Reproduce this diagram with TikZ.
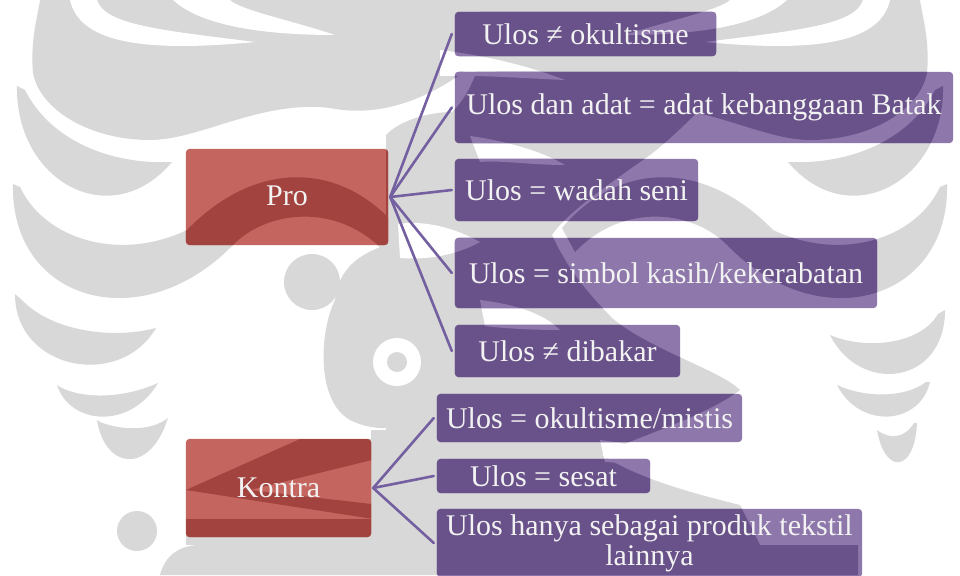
\documentclass[tikz,border=0pt]{standalone}
\usepackage{fontspec}
\setmainfont{Liberation Serif}
\pgfdeclarelayer{bg}
\pgfsetlayers{bg,main}

\definecolor{wmgrey}{HTML}{D8D8D8}
\definecolor{redlight}{HTML}{C5655F}
\definecolor{reddark}{HTML}{A3433F}
\definecolor{purplelight}{HTML}{8E78AB}
\definecolor{purpledark}{HTML}{69528A}
\definecolor{connpurple}{HTML}{7460A0}
\definecolor{labelwhite}{HTML}{F2F2F2}

% upper feathers of one wing of the emblem (drawn again mirrored for the other wing)
\newcommand\winggrey[1]{%
 \fill[#1] (40,0) -- (480,0) -- (480,60) .. controls (430,100) and (380,118) .. (330,108)
   .. controls (260,100) and (200,140) .. (150,140) .. controls (90,140) and (40,110) .. (33,73)
   .. controls (30,40) and (38,15) .. (40,0) -- cycle;
 \fill[#1] (17,86) .. controls (15,180) and (110,235) .. (172,162) .. controls (110,165) and (50,140) .. (25,90) -- cycle;
 \fill[#1] (13,184) .. controls (10,300) and (140,340) .. (233,245) .. controls (265,212) and (335,200) .. (385,252)
   -- (398,228) .. controls (340,160) and (255,160) .. (187,230) .. controls (120,262) and (45,240) .. (20,187) -- cycle;
}
\newcommand\winggaps[1]{%
 \fill[#1] (70,0) .. controls (80,45) and (150,52) .. (255,42) .. controls (160,30) and (105,25) .. (97,0) -- cycle;
 \fill[#1] (173,0) .. controls (200,25) and (260,35) .. (335,35) .. controls (290,20) and (240,10) .. (230,0) -- cycle;
}
% lower feathers of both wings
\newcommand\lowerfeathers[1]{%
 \fill[#1] (15,294) .. controls (15,370) and (120,390) .. (156,328) .. controls (110,340) and (50,330) .. (22,300) -- cycle;
 \fill[#1] (57,385) .. controls (70,425) and (130,430) .. (158,383) .. controls (120,400) and (80,398) .. (60,387) -- cycle;
 \fill[#1] (97,420) .. controls (105,470) and (150,475) .. (168,418) .. controls (150,432) and (120,430) .. (100,422) -- cycle;
 \fill[#1] (945,310) .. controls (945,385) and (860,395) .. (830,335) .. controls (865,350) and (920,345) .. (938,314) -- cycle;
 \fill[#1] (930,382) .. controls (920,425) and (860,430) .. (837,385) .. controls (865,398) and (905,398) .. (926,382) -- cycle;
 \fill[#1] (917,423) .. controls (915,472) and (885,476) .. (877,430) .. controls (890,440) and (905,438) .. (914,423) -- cycle;
}
% trunk, seed and roots
\newcommand\trunk[1]{%
 \fill[#1] (480,0) -- (650,0) .. controls (700,30) and (740,50) .. (740,70)
   .. controls (700,110) and (670,140) .. (650,155) .. controls (600,190) and (565,215) .. (552,235)
   .. controls (570,275) and (595,300) .. (612,318) .. controls (650,350) and (720,370) .. (740,390)
   .. controls (700,420) and (625,440) .. (602,455) .. controls (640,480) and (700,495) .. (740,505)
   -- (760,545) -- (371,545) -- (371,430) -- (386,430) -- (386,135)
   .. controls (400,120) and (430,112) .. (452,112) .. controls (465,100) and (475,80) .. (480,60) -- cycle;
 \fill[#1] (312,282) circle[radius=28];
 \fill[#1] (335,300) .. controls (320,330) and (315,400) .. (350,420) .. controls (380,435) and (420,430) .. (432,400)
   -- (432,240) -- (400,240) .. controls (370,250) and (340,260) .. (335,300) -- cycle;
 \fill[#1] (137,531) circle[radius=20];
 \fill[#1] (160,575) .. controls (165,555) and (180,545) .. (200,545) -- (858,545) -- (858,575) -- cycle;
 \fill[#1] (186,490) -- (300,439) -- (380,439) -- (380,458) -- (250,490) -- (380,505) -- (380,520) -- cycle;
 \fill[#1] (186,519) rectangle (380,545);
}
\newcommand\trunkgaps[1]{%
 \fill[#1] (397,362) circle[radius=24];
 \fill[#1] (167,540) circle[radius=9];
 \fill[#1] (440,50) .. controls (480,55) and (520,63) .. (565,80) .. controls (520,78) and (480,75) .. (440,76) -- cycle;
 \fill[#1] (398,224) .. controls (425,220) and (455,228) .. (480,242) .. controls (455,256) and (425,260) .. (400,258) -- cycle;
 \fill[#1] (470,136) .. controls (500,140) and (540,150) .. (565,165) .. controls (530,165) and (500,160) .. (480,162) -- cycle;
 \fill[#1] (480,300) .. controls (520,305) and (545,315) .. (560,330) .. controls (530,330) and (500,328) .. (485,326) -- cycle;
 \fill[#1] (600,440) .. controls (640,445) and (680,455) .. (700,470) .. controls (670,468) and (630,463) .. (605,462) -- cycle;
}
% the whole emblem, in a fill colour and a gap colour
\newcommand\drawemblem[2]{%
  \winggrey{#1}
  \begin{scope}[shift={(960,0)},xscale=-1] \winggrey{#1} \end{scope}
  \lowerfeathers{#1}
  \trunk{#1}
  \winggaps{#2}
  \begin{scope}[shift={(960,0)},xscale=-1] \winggaps{#2} \end{scope}
  \trunkgaps{#2}
  \fill[#1] (397,362) circle[radius=10];
}

\tikzset{
  label/.style={inner sep=0pt, text=labelwhite, align=center,
    font=\fontsize{30}{30}\selectfont},
  conn/.style={draw=connpurple, line width=2.6pt, line cap=round},
}

\begin{document}
\begin{tikzpicture}[x=1pt, y=-1pt]
\useasboundingbox (0,0) rectangle (960,575);

% category boxes
\node[label, minimum width=202pt, minimum height=96pt] (pro) at (287,197) {\raisebox{3pt}{Pro}};
\node[label, minimum width=185pt, minimum height=98pt] (kontra) at (278.5,488) {Kontra};

% statements
\node[label, minimum width=261pt, minimum height=44pt] (b1) at (585.5,34) {Ulos ≠ okultisme};
\node[label, minimum width=498pt, minimum height=71pt] (b2) at (704,107.5) {Ulos dan adat = adat kebanggaan Batak};
\node[label, minimum width=243pt, minimum height=62pt] (b3) at (576.5,190) {Ulos = wadah seni};
\node[label, minimum width=422pt, minimum height=70pt] (b4) at (666,273) {Ulos = simbol kasih/kekerabatan};
\node[label, minimum width=225pt, minimum height=52pt] (b5) at (567.5,351) {Ulos ≠ dibakar};
\node[label, minimum width=305pt, minimum height=48pt] (b6) at (589.5,418) {Ulos = okultisme/mistis};
\node[label, minimum width=213pt, minimum height=34pt] (b7) at (543.5,476) {Ulos = sesat};
\node[label, minimum width=425pt, minimum height=68pt] (b8) at (649.5,543) {Ulos hanya sebagai produk tekstil\\lainnya};

% connectors
\foreach \t in {b1,b2,b3,b4,b5}
  \draw[conn] ([xshift=2pt]pro.east) -- ([xshift=-3pt]\t.west);
\foreach \t in {b6,b7,b8}
  \draw[conn] ([xshift=2pt]kontra.east) -- ([xshift=-3pt]\t.west);

\begin{pgfonlayer}{bg}
  \fill[white] (0,0) rectangle (960,575);
  \drawemblem{wmgrey}{white}
  % box fills
  \foreach \n in {b1,b2,b3,b4,b5,b6,b7,b8}
    \fill[purplelight, rounded corners=4pt] (\n.south west) rectangle (\n.north east);
  \foreach \n in {pro,kontra}
    \fill[redlight, rounded corners=4pt] (\n.south west) rectangle (\n.north east);
  % emblem seen through the purple boxes
  \begin{scope}
    \clip[rounded corners=4pt]
      (b1.south west) rectangle (b1.north east)
      (b2.south west) rectangle (b2.north east)
      (b3.south west) rectangle (b3.north east)
      (b4.south west) rectangle (b4.north east)
      (b5.south west) rectangle (b5.north east)
      (b6.south west) rectangle (b6.north east)
      (b7.south west) rectangle (b7.north east)
      (b8.south west) rectangle (b8.north east);
    \drawemblem{purpledark}{purplelight}
  \end{scope}
  % emblem seen through the red boxes
  \begin{scope}
    \clip[rounded corners=4pt]
      (pro.south west) rectangle (pro.north east)
      (kontra.south west) rectangle (kontra.north east);
    \drawemblem{reddark}{redlight}
  \end{scope}
\end{pgfonlayer}
\end{tikzpicture}
\end{document}
